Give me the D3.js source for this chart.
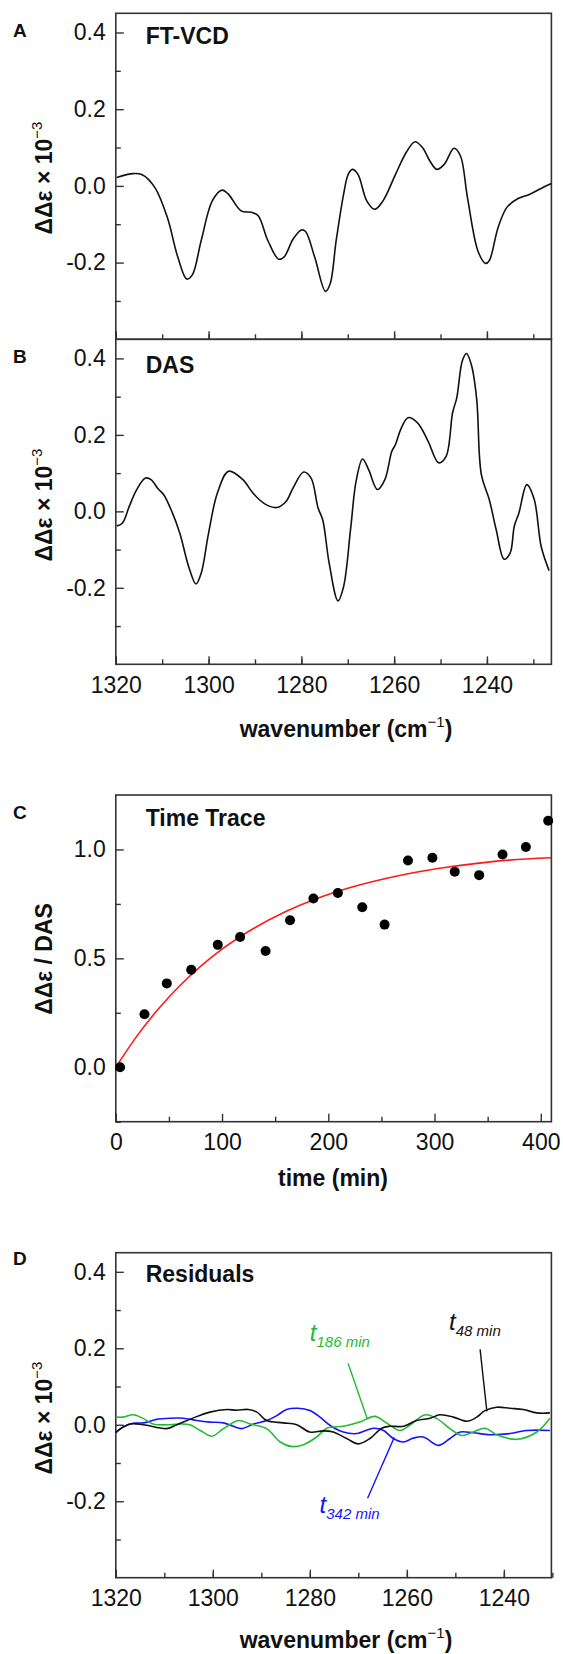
<!DOCTYPE html>
<html>
<head>
<meta charset="utf-8">
<script src="https://cdn.jsdelivr.net/npm/d3@7"></script>
<style>
  body { margin: 0; background: #fff; }
  text { font-family: "Liberation Sans", Arial, sans-serif; fill: #111; }
</style>
</head>
<body>
<svg id="canvas" width="563" height="1654"></svg>
<script>
// panel A: FT-VCD spectrum
const vcdWave = [1319.8, 1316.3, 1314.3, 1311.6, 1308.9, 1306.6, 1304.7, 1303.5, 1301.6, 1299.2, 1297.1, 1295.7, 1293.0, 1290.7, 1289.3, 1287.2, 1284.9, 1283.7, 1281.8, 1280.0, 1279.1, 1277.1, 1274.8, 1273.8, 1272.5, 1270.9, 1269.9, 1269.0, 1267.8, 1265.9, 1264.2, 1262.4, 1259.7, 1257.4, 1255.5, 1253.9, 1252.3, 1250.8, 1249.2, 1247.1, 1245.7, 1244.2, 1241.9, 1240.3, 1239.5, 1237.6, 1235.7, 1233.3, 1231.0, 1228.7, 1226.1];
const vcdValues = [0.022, 0.032, 0.029, -0.004, -0.082, -0.187, -0.243, -0.232, -0.143, -0.039, -0.011, -0.022, -0.065, -0.069, -0.078, -0.143, -0.191, -0.185, -0.139, -0.115, -0.119, -0.187, -0.275, -0.256, -0.143, -0.022, 0.030, 0.043, 0.030, -0.039, -0.061, -0.039, 0.030, 0.087, 0.115, 0.100, 0.065, 0.043, 0.056, 0.098, 0.078, -0.030, -0.171, -0.202, -0.195, -0.109, -0.056, -0.033, -0.023, -0.009, 0.006];

// panel B: DAS
const dasWave = [1319.8, 1318.6, 1317.1, 1315.5, 1313.6, 1312.4, 1310.9, 1309.7, 1307.8, 1306.2, 1304.3, 1302.7, 1301.6, 1300.0, 1298.1, 1295.7, 1292.6, 1290.7, 1289.1, 1287.2, 1285.3, 1283.3, 1281.8, 1279.5, 1277.9, 1276.4, 1275.4, 1274.0, 1272.1, 1270.9, 1269.4, 1268.2, 1266.8, 1265.5, 1263.6, 1262.0, 1260.5, 1259.7, 1258.6, 1257.0, 1255.0, 1252.7, 1250.4, 1248.8, 1247.4, 1246.5, 1245.3, 1244.4, 1243.3, 1242.2, 1241.2, 1239.5, 1238.0, 1236.3, 1235.0, 1234.1, 1233.1, 1231.4, 1229.8, 1228.3, 1226.6];
const dasValues = [-0.038, -0.031, 0.013, 0.057, 0.087, 0.083, 0.059, 0.044, -0.004, -0.057, -0.144, -0.190, -0.162, -0.057, 0.048, 0.105, 0.083, 0.052, 0.031, 0.015, 0.010, 0.026, 0.061, 0.103, 0.087, 0.009, -0.022, -0.136, -0.234, -0.197, -0.048, 0.079, 0.137, 0.109, 0.057, 0.083, 0.157, 0.175, 0.214, 0.245, 0.232, 0.184, 0.127, 0.144, 0.258, 0.297, 0.394, 0.413, 0.381, 0.293, 0.096, 0.031, -0.048, -0.125, -0.109, -0.039, -0.004, 0.070, 0.031, -0.092, -0.155];

// panel C: time trace
const traceTimes = [4, 27, 48, 71, 96, 117, 141, 164, 186, 209, 232, 253, 275, 298, 319, 342, 364, 386, 407];
const traceValues = [0.0, 0.243, 0.385, 0.448, 0.562, 0.598, 0.534, 0.675, 0.775, 0.80, 0.735, 0.655, 0.949, 0.962, 0.898, 0.882, 0.977, 1.011, 1.132];
const fitTimes = [0, 20, 40, 60, 80, 100, 130, 160, 190, 220, 250, 280, 310, 340, 370, 410];
const fitValues = [0, 0.144, 0.267, 0.373, 0.464, 0.542, 0.638, 0.715, 0.776, 0.824, 0.862, 0.893, 0.917, 0.936, 0.951, 0.962];

// panel D: residuals
const res48Wave = [1320.0, 1317.1, 1314.3, 1309.5, 1307.4, 1304.0, 1300.6, 1297.1, 1295.1, 1292.7, 1290.9, 1288.9, 1285.5, 1282.7, 1280.0, 1277.2, 1275.2, 1272.4, 1270.0, 1267.6, 1265.2, 1263.5, 1260.7, 1258.0, 1255.2, 1253.2, 1250.4, 1247.6, 1245.6, 1243.9, 1241.5, 1238.7, 1236.0, 1233.2, 1230.5];
const res48Values = [-0.019, 0.002, 0, -0.010, 0, 0.018, 0.033, 0.040, 0.038, 0.040, 0.033, 0.011, 0.005, 0, -0.019, -0.016, -0.019, -0.036, -0.050, -0.036, -0.009, -0.004, -0.004, 0.011, 0.017, 0.026, 0.020, 0.009, 0.020, 0.037, 0.046, 0.043, 0.040, 0.031, 0.031];
const res186Wave = [1320.0, 1318.5, 1316.4, 1314.3, 1312.3, 1308.8, 1306.8, 1304.7, 1302.6, 1300.2, 1297.8, 1294.7, 1292.3, 1288.9, 1286.1, 1283.7, 1281.3, 1278.6, 1276.5, 1273.1, 1269.7, 1266.6, 1264.1, 1261.4, 1259.3, 1256.2, 1253.8, 1251.1, 1248.7, 1246.3, 1243.9, 1241.5, 1237.3, 1233.2, 1230.5];
const res186Values = [0.020, 0.020, 0.026, 0.016, 0.002, 0, 0.002, 0, -0.015, -0.030, -0.010, 0.011, 0.002, -0.010, -0.045, -0.057, -0.052, -0.032, -0.009, -0.004, 0.007, 0.022, 0.004, -0.015, 0, 0.026, 0.016, -0.010, -0.028, -0.019, -0.009, -0.026, -0.038, -0.019, 0.017];
const res342Wave = [1320.0, 1318.5, 1316.4, 1314.3, 1311.6, 1308.8, 1306.1, 1303.3, 1300.6, 1297.8, 1295.8, 1294.0, 1291.6, 1288.9, 1286.8, 1284.8, 1282.4, 1280.0, 1277.9, 1275.8, 1273.1, 1270.3, 1266.9, 1264.8, 1262.8, 1260.7, 1258.7, 1256.6, 1253.5, 1251.1, 1249.0, 1246.3, 1242.8, 1238.7, 1235.3, 1230.5];
const res342Values = [-0.021, -0.006, 0.004, 0.005, 0.014, 0.017, 0.017, 0.011, 0.007, 0.005, -0.004, -0.010, 0.002, 0.011, 0.024, 0.040, 0.043, 0.037, 0.020, -0.002, -0.019, -0.023, -0.009, -0.015, -0.036, -0.045, -0.035, -0.032, -0.054, -0.036, -0.019, -0.021, -0.026, -0.023, -0.015, -0.015];

const residualNames = ["t", "t", "t"];
const residualSubs = ["48 min", "186 min", "342 min"];
const residualColors = ["#111111", "#22bb33", "#1515ff"];

const spectrumTicks = [1320, 1300, 1280, 1260, 1240];
const deltaTicks = [-0.2, 0.0, 0.2, 0.4];
const traceYTicks = [0.0, 0.5, 1.0];
const traceXTicks = [0, 100, 200, 300, 400];

const canvas = d3.select("#canvas");
const left = 115.8, right = 551.4;
const tickFont = 23, titleFont = 23;

// Origin-style labels use a plain hyphen for negatives
const oneDecimal = (d) => d3.format(".1f")(d).replace("−", "-");

const drawAxes = (x, y, top, bottom, opts) => {
  const g = canvas.append("g");

  // minor ticks
  g.append("g")
    .attr("transform", `translate(${left},0)`)
    .call(d3.axisLeft(y).tickValues(opts.yMinor).tickSize(-5).tickFormat(""));
  g.append("g")
    .attr("transform", `translate(0,${bottom})`)
    .call(d3.axisBottom(x).tickValues(opts.xMinor).tickSize(-5).tickFormat(""));

  g.append("g")
    .attr("transform", `translate(${left},0)`)
    .call(d3.axisLeft(y).tickValues(opts.yTicks).tickSize(-8).tickPadding(10).tickFormat(oneDecimal));

  g.append("g")
    .attr("transform", `translate(0,${bottom})`)
    .call(d3.axisBottom(x).tickValues(opts.xTicks).tickSize(-8).tickPadding(12)
      .tickFormat(opts.xLabels ? d3.format("d") : ""));

  g.selectAll(".domain").remove();
  g.selectAll(".tick line").attr("stroke", "#333").attr("stroke-width", 1.4);
  g.selectAll(".tick text")
    .attr("font-size", tickFont)
    .attr("font-family", "'Liberation Sans', Arial, sans-serif")
    .attr("fill", "#1a1a1a");

  g.append("rect")
    .attr("x", left)
    .attr("y", top)
    .attr("width", right - left)
    .attr("height", bottom - top)
    .attr("fill", "none")
    .attr("stroke", "#333")
    .attr("stroke-width", 1.6);
  return g;
};

const lineOf = (x, y, xs, ys) =>
  d3.line().x((d) => x(d)).y((d, i) => y(ys[i])).curve(d3.curveCatmullRom.alpha(0.5))(xs);

const panelLetter = (letter, yPos) => {
  canvas.append("text")
    .text(letter)
    .attr("x", 13)
    .attr("y", yPos)
    .attr("font-size", 19)
    .attr("font-weight", "bold");
};

const innerTitle = (title, yPos) => {
  canvas.append("text")
    .text(title)
    .attr("x", 145.7)
    .attr("y", yPos)
    .attr("font-size", 23)
    .attr("font-weight", "bold");
};

const deltaLabel = (cy) => {
  const t = canvas.append("text")
    .attr("transform", `translate(52,${cy}) rotate(-90)`)
    .attr("text-anchor", "middle")
    .attr("font-size", titleFont)
    .attr("font-weight", "bold");
  t.append("tspan").text("ΔΔε × 10");
  t.append("tspan").text("−3").attr("font-size", 15).attr("font-weight", "normal").attr("dy", -10);
};

const wavenumberLabel = (yPos) => {
  const t = canvas.append("text")
    .attr("x", 346)
    .attr("y", yPos)
    .attr("text-anchor", "middle")
    .attr("font-size", titleFont)
    .attr("font-weight", "bold");
  t.append("tspan").text("wavenumber (cm");
  t.append("tspan").text("−1").attr("font-size", 15).attr("font-weight", "normal").attr("dy", -10);
  t.append("tspan").text(")").attr("dy", 10);
};

const xWide = d3.scaleLinear().domain([1320, 1226.1]).range([left, right]);
const xRes = d3.scaleLinear().domain([1320, 1230.2]).range([left, right]);
const spectrumMinor = d3.range(1230, 1321, 10);

// ---- panel A
const yA = d3.scaleLinear().domain([-0.4, 0.45]).range([339.3, 13.3]);
drawAxes(xWide, yA, 13.3, 339.3, {
  yTicks: deltaTicks, yMinor: [-0.3, -0.1, 0.1, 0.3],
  xTicks: spectrumTicks, xMinor: spectrumMinor, xLabels: false
});
canvas.append("path")
  .attr("d", lineOf(xWide, yA, vcdWave, vcdValues))
  .attr("fill", "none").attr("stroke", "#111").attr("stroke-width", 1.6);
panelLetter("A", 37);
innerTitle("FT-VCD", 44);
deltaLabel(178);

// ---- panel B
const yB = d3.scaleLinear().domain([-0.4, 0.45]).range([664.3, 339.3]);
drawAxes(xWide, yB, 339.3, 664.3, {
  yTicks: deltaTicks, yMinor: [-0.3, -0.1, 0.1, 0.3],
  xTicks: spectrumTicks, xMinor: spectrumMinor, xLabels: true
});
canvas.append("path")
  .attr("d", lineOf(xWide, yB, dasWave, dasValues))
  .attr("fill", "none").attr("stroke", "#111").attr("stroke-width", 1.6);
panelLetter("B", 363);
innerTitle("DAS", 373);
deltaLabel(505);
wavenumberLabel(737);

// ---- panel C
const xC = d3.scaleLinear().domain([0, 410]).range([left, right]);
const yC = d3.scaleLinear().domain([-0.25, 1.25]).range([1121.7, 795]);
drawAxes(xC, yC, 795, 1121.7, {
  yTicks: traceYTicks, yMinor: [-0.25, 0.25, 0.75],
  xTicks: traceXTicks, xMinor: [50, 150, 250, 350], xLabels: true
});
canvas.append("path")
  .attr("d", d3.line().x((d) => xC(d)).y((d, i) => yC(fitValues[i])).curve(d3.curveMonotoneX)(fitTimes))
  .attr("fill", "none").attr("stroke", "#ff1a1a").attr("stroke-width", 1.6);
canvas.append("g")
  .selectAll("circle")
  .data(traceTimes)
  .enter()
  .append("circle")
  .attr("cx", (d) => xC(d))
  .attr("cy", (d, i) => yC(traceValues[i]))
  .attr("r", 5)
  .attr("fill", "#000");
panelLetter("C", 819);
innerTitle("Time Trace", 826);
canvas.append("text")
  .attr("transform", "translate(52,959) rotate(-90)")
  .attr("text-anchor", "middle")
  .attr("font-size", titleFont)
  .attr("font-weight", "bold")
  .text("ΔΔε / DAS");
canvas.append("text")
  .text("time (min)")
  .attr("x", 333)
  .attr("y", 1186)
  .attr("text-anchor", "middle")
  .attr("font-size", titleFont)
  .attr("font-weight", "bold");

// ---- panel D
const yD = d3.scaleLinear().domain([-0.4, 0.45]).range([1577.7, 1252.7]);
drawAxes(xRes, yD, 1252.7, 1577.7, {
  yTicks: deltaTicks, yMinor: [-0.3, -0.1, 0.1, 0.3],
  xTicks: spectrumTicks, xMinor: spectrumMinor, xLabels: true
});
const residuals = [
  { wave: res342Wave, values: res342Values, color: residualColors[2] },
  { wave: res186Wave, values: res186Values, color: residualColors[1] },
  { wave: res48Wave, values: res48Values, color: residualColors[0] }
];
residuals.forEach((r) => {
  canvas.append("path")
    .attr("d", lineOf(xRes, yD, r.wave, r.values))
    .attr("fill", "none").attr("stroke", r.color).attr("stroke-width", 1.6);
});

// leader lines and labels, in data units
const labelWave = [1251.3, 1280.0, 1278.0];
const labelValue = [0.249, 0.22, -0.231];
const leaderFrom = [[1244.9, 0.197], [1272.1, 0.16], [1268.1, -0.192]];
const leaderTo = [[1243.5, 0.035], [1268.2, 0.017], [1262.6, -0.033]];
residualSubs.forEach((sub, i) => {
  canvas.append("line")
    .attr("x1", xRes(leaderFrom[i][0])).attr("y1", yD(leaderFrom[i][1]))
    .attr("x2", xRes(leaderTo[i][0])).attr("y2", yD(leaderTo[i][1]))
    .attr("stroke", residualColors[i]).attr("stroke-width", 1.4);
  const t = canvas.append("text")
    .attr("x", xRes(labelWave[i]))
    .attr("y", yD(labelValue[i]))
    .attr("font-style", "italic")
    .style("fill", residualColors[i]);
  t.append("tspan").text(residualNames[i]).attr("font-size", 24);
  t.append("tspan").text(sub).attr("font-size", 15).attr("dy", 6);
});
panelLetter("D", 1265);
innerTitle("Residuals", 1282);
deltaLabel(1418);
wavenumberLabel(1648);
</script>
</body>
</html>
